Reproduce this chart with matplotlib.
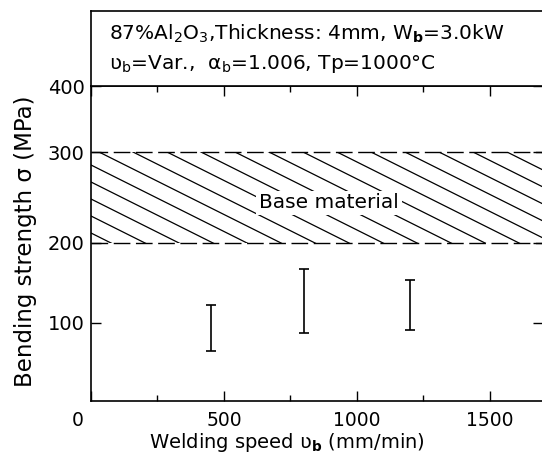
import numpy as np
import matplotlib
matplotlib.use('Agg')
import matplotlib.pyplot as plt
import matplotlib.transforms as mtransforms

# data
speeds = [450, 800, 1200]          # welding speed (mm/min)
sigma_lo = [64, 87, 91]            # lower end of scatter (MPa)
sigma_hi = [122, 167, 154]         # upper end of scatter (MPa)
base_lo, base_hi = 200, 300        # base material band (MPa)
xticks = [0, 500, 1000, 1500]
xminor = [250, 750, 1250]
yticks = [100, 200, 300, 400]

# the scanned axis is not quite linear, map value -> scan height
y_vals = [0, 100, 200, 300, 400]
y_scan = [0, 78, 158, 249, 315]

def fwd(v):
    return np.interp(v, y_vals, y_scan)

def inv(p):
    return np.interp(p, y_scan, y_vals)

plt.rcParams['font.family'] = 'DejaVu Sans'
plt.rcParams['font.size'] = 14.5

W, H = 542, 454
fig = plt.figure(figsize=(W / 100, H / 100), dpi=100)
L, R, B, T, TOP = 91, 543, 401, 86, 11
pw, ph = R - L, B - T
ax = fig.add_axes([L / W, (H - B) / H, pw / W, ph / H])
hdr = fig.add_axes([L / W, (H - T) / H, pw / W, (T - TOP) / H])

ax.set_yscale('function', functions=(fwd, inv))
ax.set_xlim(0, 1700)
ax.set_ylim(0, 400)

# base material band with slanted hatching
band = ax.axhspan(base_lo, base_hi, facecolor='none', edgecolor='none')
ax.axhline(base_lo, color='k', lw=1.0, dashes=(12, 4))
ax.axhline(base_hi, color='k', lw=1.0, dashes=(12, 4))
sl = 0.5 * pw / ph
step = 34 / pw
y0 = 236 / ph
for x0 in np.arange(-10 * step, 1.2, step):
    ln, = ax.plot([x0 - 1, x0 + 1], [y0 + sl, y0 - sl], transform=ax.transAxes,
                  color='k', lw=0.9)
    ln.set_clip_path(band)
ax.text(895, 244, 'Base material', ha='center', va='center',
        bbox=dict(facecolor='white', edgecolor='none', pad=2))

lo = np.array(sigma_lo)
hi = np.array(sigma_hi)
mid = (lo + hi) / 2
ax.errorbar(speeds, mid, yerr=(hi - lo) / 2, fmt='none', ecolor='k',
            elinewidth=1.2, capsize=3.5, capthick=1.2)

ax.set_xticks(xticks)
ax.set_xticks(xminor, minor=True)
ax.set_yticks(yticks)
ax.yaxis.set_minor_locator(matplotlib.ticker.NullLocator())
ax.tick_params(direction='in', length=7, width=1, top=True, right=True,
               labelsize=14)
ax.tick_params(axis='x', pad=7, labelsize=13.5)
ax.tick_params(axis='y', pad=4.5)
ax.tick_params(which='minor', direction='in', length=4.5, width=1, top=True)
for lab in ax.get_xticklabels():
    if lab.get_text() == '0':
        lab.set_transform(lab.get_transform() +
                          mtransforms.ScaledTranslation(-0.13, 0, fig.dpi_scale_trans))

for s in ax.spines.values():
    s.set_linewidth(1.2)
for s in hdr.spines.values():
    s.set_linewidth(1.2)

ax.set_xlabel('Welding speed ʋ$_\\mathbf{b}$ (mm/min)', fontsize=14)
ax.xaxis.set_label_coords((287 - L) / pw, -30 / ph)
ax.set_ylabel('Bending strength σ (MPa)', fontsize=16.5)
ax.yaxis.set_label_coords(-54 / pw, (B - 241) / ph)

hdr.set_xticks([])
hdr.set_yticks([])
hdr.text(18 / pw, 0.70, '87%Al$_2$O$_3$,Thickness: 4mm, W$_\\mathbf{b}$=3.0kW',
         transform=hdr.transAxes, va='center', ha='left')
hdr.text(18 / pw, 0.29, 'ʋ$_\\mathrm{b}$=Var.,  α$_\\mathrm{b}$=1.006, Tp=1000°C',
         transform=hdr.transAxes, va='center', ha='left')

fig.savefig('out.png', dpi=100)
